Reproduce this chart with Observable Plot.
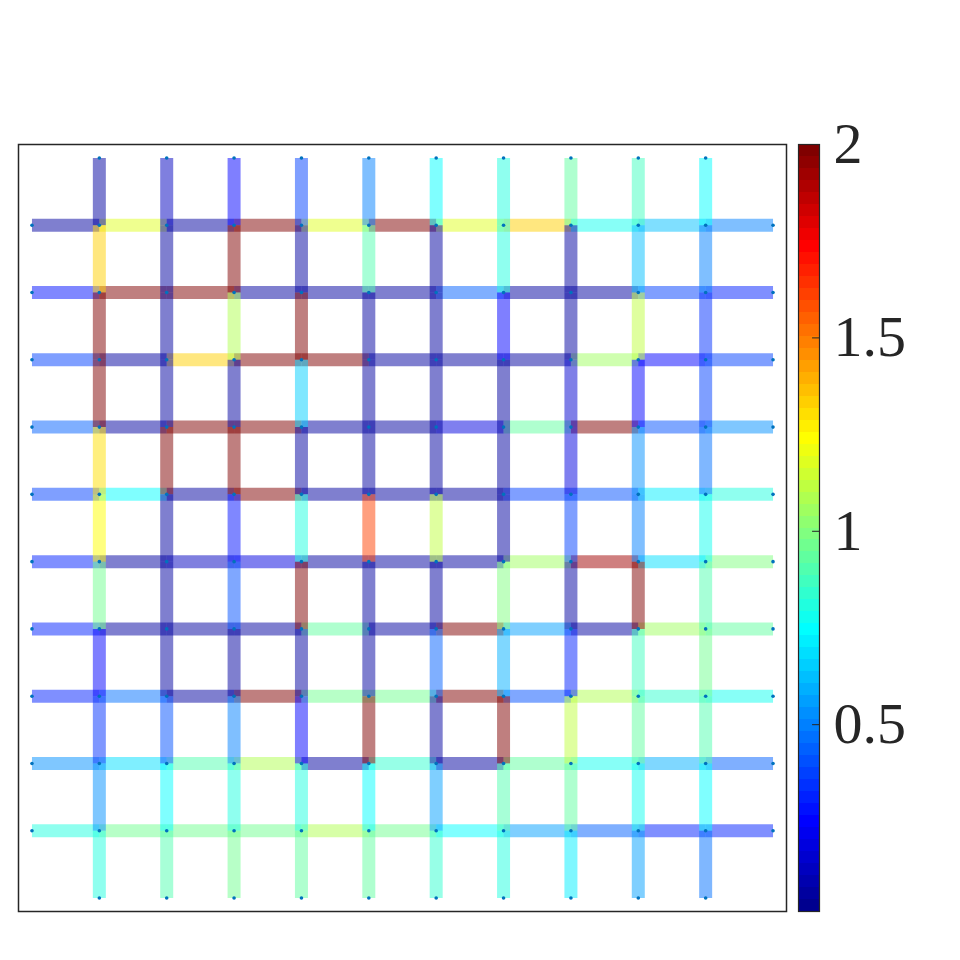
<!DOCTYPE html>
<html><head><meta charset="utf-8">
<script src="https://cdn.jsdelivr.net/npm/d3@7"></script>
<script src="https://cdn.jsdelivr.net/npm/@observablehq/plot@0.6"></script>
<style>
html,body{margin:0;padding:0;background:#fff;}
#wrap{position:relative;width:960px;height:960px;overflow:hidden;}
#wrap svg{position:absolute;left:0;top:0;}
</style></head><body><div id="wrap"></div>
<script>
// Horizontal segments, one array per node row (top to bottom), segment c spans x=c..c+1
const hRow1  = [0.05, 1.18, 0.05, 1.99, 1.18, 1.99, 1.18, 1.33, 0.77, 0.63, 0.50];
const hRow2  = [0.27, 1.99, 1.99, 0.05, 0.05, 0.05, 0.45, 0.07, 0.05, 0.37, 0.30];
const hRow3  = [0.37, 0.05, 1.33, 1.99, 1.99, 0.05, 0.05, 0.05, 1.04, 0.25, 0.37];
const hRow4  = [0.45, 0.05, 1.99, 1.99, 0.05, 0.05, 0.20, 0.93, 1.99, 0.40, 0.53];
const hRow5  = [0.37, 0.75, 0.05, 1.99, 0.05, 0.05, 0.05, 0.37, 0.40, 0.70, 0.80];
const hRow6  = [0.32, 0.05, 0.12, 0.18, 0.05, 0.05, 0.05, 1.05, 1.92, 0.67, 1.00];
const hRow7  = [0.30, 0.05, 0.05, 0.05, 0.93, 0.05, 1.99, 0.55, 0.05, 1.07, 0.93];
const hRow8  = [0.30, 0.47, 0.05, 1.99, 0.95, 0.95, 1.99, 0.41, 1.10, 0.85, 0.77];
const hRow9  = [0.53, 0.68, 0.90, 1.10, 0.05, 0.85, 0.05, 0.93, 0.77, 0.60, 0.45];
const hRow10 = [0.82, 0.95, 0.95, 0.95, 1.10, 0.95, 0.75, 0.55, 0.45, 0.32, 0.30];

// Vertical segments, one array per node column (left to right), segment r spans y=r..r+1 (top to bottom)
const vCol1  = [0.05, 1.33, 1.99, 1.99, 1.31, 1.24, 0.97, 0.25, 0.35, 0.53, 0.82];
const vCol2  = [0.12, 0.05, 0.05, 0.05, 1.99, 0.05, 0.05, 0.05, 0.40, 0.75, 0.90];
const vCol3  = [0.25, 1.99, 1.10, 0.05, 1.99, 0.28, 0.40, 0.05, 0.50, 0.82, 0.97];
const vCol4  = [0.37, 0.05, 1.99, 0.65, 0.05, 0.80, 1.99, 0.05, 0.25, 0.82, 0.93];
const vCol5  = [0.50, 0.90, 0.05, 0.05, 0.05, 1.60, 0.05, 0.05, 1.99, 0.75, 0.93];
const vCol6  = [0.75, 0.05, 0.05, 0.05, 0.05, 1.13, 0.05, 0.45, 0.05, 0.55, 0.85];
const vCol7  = [0.80, 0.80, 0.25, 0.05, 0.05, 0.05, 1.00, 0.60, 1.99, 0.90, 0.82];
const vCol8  = [0.92, 0.05, 0.05, 0.15, 0.20, 0.37, 0.05, 0.30, 1.13, 0.93, 0.72];
const vCol9  = [0.87, 0.63, 1.13, 0.25, 0.53, 0.50, 1.99, 0.87, 0.92, 0.77, 0.57];
const vCol10 = [0.75, 0.50, 0.33, 0.37, 0.47, 0.77, 0.90, 0.95, 0.90, 0.73, 0.47];

const colorMin = 0.017, colorMax = 2;
const colorTicks = [0.5, 1, 1.5, 2];
const nodeIndex = d3.range(0, 12); // 0 and 11 are the outer segment ends

// MATLAB jet(64) colormap as an interpolator of t in [0,1]
function jet64(t) {
  const m = 64;
  const k = Math.max(1, Math.min(m, Math.floor(t * m) + 1));
  const u = i => (i < 1 || i > 47) ? 0 : (i <= 16 ? i / 16 : (i <= 31 ? 1 : (48 - i) / 16));
  const r = u(k - 24), g = u(k - 8), b = u(k + 8);
  return `rgb(${Math.round(r * 255)},${Math.round(g * 255)},${Math.round(b * 255)})`;
}

const hRows = [hRow1, hRow2, hRow3, hRow4, hRow5, hRow6, hRow7, hRow8, hRow9, hRow10];
const vCols = [vCol1, vCol2, vCol3, vCol4, vCol5, vCol6, vCol7, vCol8, vCol9, vCol10];

const segs = [];
hRows.forEach((row, i) => row.forEach((v, c) => segs.push({x1: c, x2: c + 1, y1: i + 1, y2: i + 1, v})));
vCols.forEach((col, j) => col.forEach((v, r) => segs.push({x1: j + 1, x2: j + 1, y1: r, y2: r + 1, v})));

const nodes = [];
for (const r of nodeIndex) for (const c of nodeIndex) {
  const edge = (r === 0 || r === 11) + (c === 0 || c === 11);
  if (edge < 2) nodes.push({x: c, y: r});
}

const colorScale = {type: "linear", domain: [colorMin, colorMax], interpolate: jet64};
const serif = '"Liberation Serif", "DejaVu Serif", serif';

const main = Plot.plot({
  width: 960, height: 960,
  marginLeft: 18, marginRight: 174, marginTop: 144, marginBottom: 49,
  x: {domain: [-0.2, 11.2], axis: null},
  y: {domain: [-0.2, 11.2], reverse: true, axis: null},
  color: colorScale,
  style: {background: "transparent"},
  marks: [
    Plot.link(segs, {x1: "x1", y1: "y1", x2: "x2", y2: "y2", stroke: "v", strokeOpacity: 0.5, strokeWidth: 13, strokeLinecap: "butt"}),
    Plot.dot(nodes, {x: "x", y: "y", r: 1.8, fill: "#0072BD", stroke: null}),
    Plot.frame({stroke: "#262626", strokeWidth: 1.5})
  ]
});

const bands = d3.range(64).map(i => ({
  lo: colorMin + i * (colorMax - colorMin) / 64,
  hi: colorMin + (i + 1) * (colorMax - colorMin) / 64
}));

const bar = Plot.plot({
  width: 960, height: 960,
  marginLeft: 798, marginRight: 141, marginTop: 144, marginBottom: 49,
  x: {domain: [0, 1], axis: null},
  y: {domain: [colorMin, colorMax], axis: null},
  color: colorScale,
  style: {background: "transparent"},
  marks: [
    Plot.rect(bands, {x1: () => 0, x2: () => 1, y1: "lo", y2: "hi", fill: d => (d.lo + d.hi) / 2, inset: 0, shapeRendering: "crispEdges"}),
    Plot.ruleY(colorTicks, {x1: 0.67, x2: 1, stroke: "#262626", strokeWidth: 1}),
    Plot.frame({stroke: "#262626", strokeWidth: 1.2}),
    Plot.axisY(colorTicks, {anchor: "right", tickSize: 0, tickPadding: 14, fontSize: 58, fill: "#262626", tickFormat: d => String(d), label: null})
  ]
});

const wrap = document.getElementById("wrap");
wrap.appendChild(main);
wrap.appendChild(bar);
d3.select(bar).style("font-family", serif);
d3.select(bar).selectAll("g, text").attr("font-family", null).style("font-family", serif);
</script></body></html>
